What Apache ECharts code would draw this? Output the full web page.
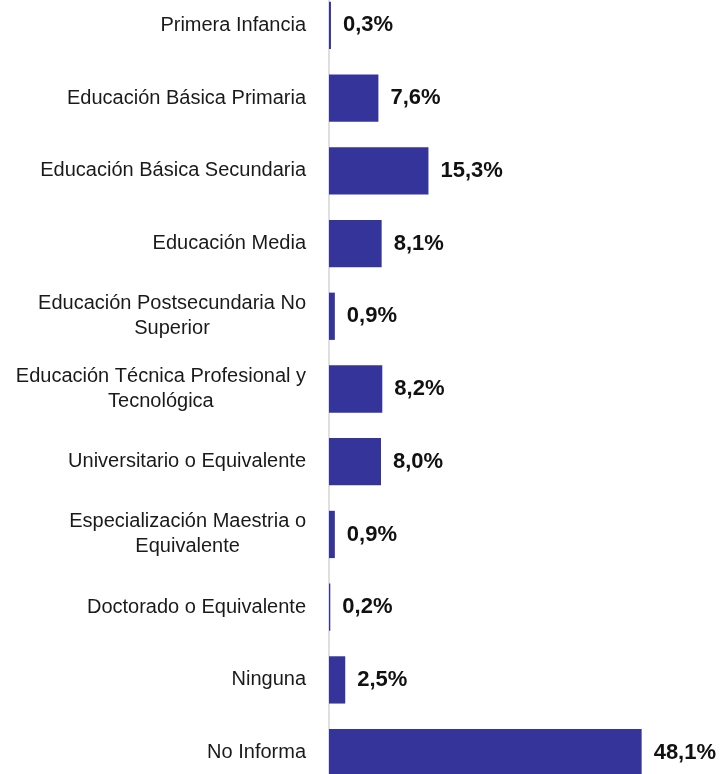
<!DOCTYPE html>
<html>
<head>
<meta charset="utf-8">
<script src="https://cdn.jsdelivr.net/npm/echarts@6/dist/echarts.min.js"></script>
<style>
  html, body { margin: 0; padding: 0; background: #ffffff; }
  #chart { width: 724px; height: 774px; }
</style>
</head>
<body>
<div id="chart"></div>
<script>
// niveles educativos, de arriba hacia abajo
var niveles = [
  "Primera Infancia",
  "Educación Básica Primaria",
  "Educación Básica Secundaria",
  "Educación Media",
  "Educación Postsecundaria No\nSuperior",
  "Educación Técnica Profesional y\nTecnológica",
  "Universitario o Equivalente",
  "Especialización Maestria o\nEquivalente",
  "Doctorado o Equivalente",
  "Ninguna",
  "No Informa"
];
// porcentajes
var porcentajes = [0.3, 7.6, 15.3, 8.1, 0.9, 8.2, 8.0, 0.9, 0.2, 2.5, 48.1];

var myChart = echarts.init(document.getElementById("chart"));
var option = {
  backgroundColor: "#ffffff",
  animation: false,
  textStyle: { fontFamily: "Liberation Sans, Arial, sans-serif" },
  grid: {
    left: 329,
    right: 70,
    top: -11,
    bottom: -15,
    outerBoundsMode: "none",
    containLabel: false
  },
  xAxis: {
    type: "value",
    min: 0,
    max: 50,
    show: false,
    splitLine: { show: false }
  },
  yAxis: {
    type: "category",
    inverse: true,
    data: niveles,
    axisTick: { show: false },
    axisLine: { show: true, lineStyle: { color: "#d4d4d4", width: 1.5 } },
    axisLabel: {
      margin: 23,
      color: "#1a1a1a",
      fontSize: 20,
      formatter: function(v) {
        return v.split("\n").map(function(s) { return "{c|" + s + "}"; }).join("\n");
      },
      rich: {
        c: {
          align: "center",
          fontSize: 20,
          lineHeight: 25,
          color: "#1a1a1a",
          fontFamily: "Liberation Sans, Arial, sans-serif"
        }
      }
    }
  },
  series: [
    {
      type: "bar",
      data: porcentajes,
      barCategoryGap: "35%",
      itemStyle: { color: "#35349a" },
      label: {
        show: true,
        position: "right",
        distance: 12,
        color: "#111111",
        fontSize: 22,
        fontWeight: "bold",
        formatter: function(p) {
          return p.value.toFixed(1).replace(".", ",") + "%";
        }
      }
    }
  ]
};
myChart.setOption(option);
</script>
</body>
</html>
